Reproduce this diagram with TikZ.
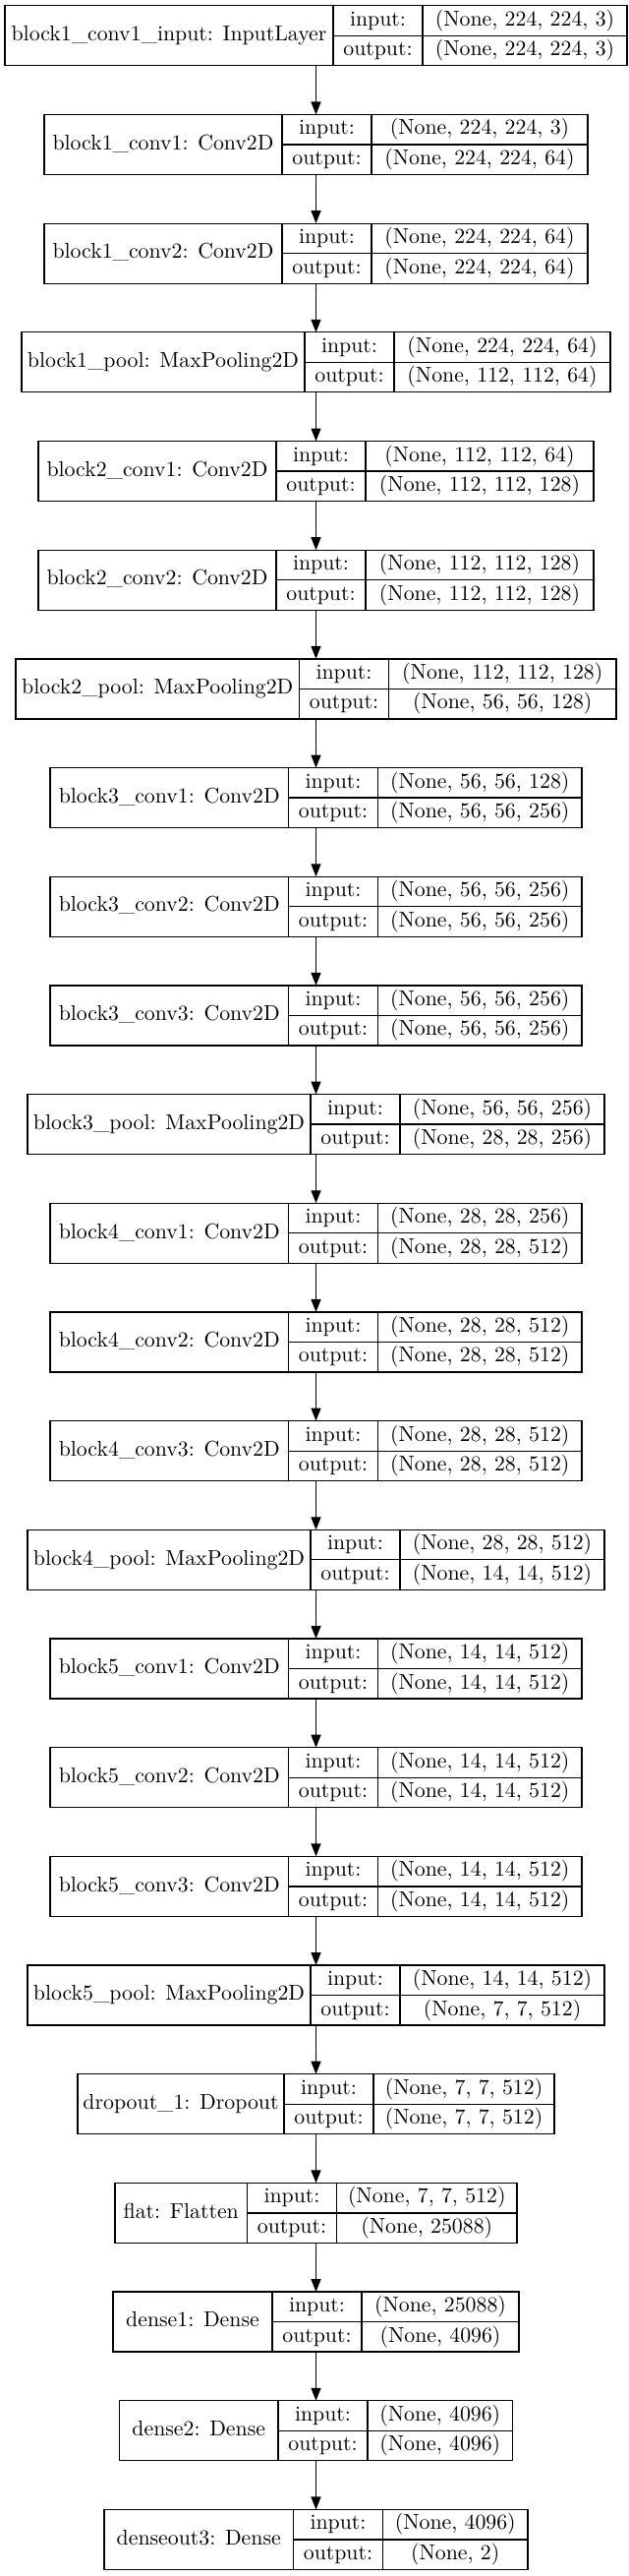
\documentclass[tikz,border=0pt]{standalone}
\usepackage{fontspec}
\usepackage{graphicx}
\usetikzlibrary{arrows.meta}
\newcommand{\celltext}[1]{\scalebox{2.18}{\strut #1}}
\tikzset{
  boxall/.style={draw=black, line width=1.3pt, inner sep=0pt, outer sep=0pt, anchor=north west},
  cell/.style={draw=black, line width=1.3pt, inner sep=0pt, outer sep=0pt, anchor=north west,
    font=\fontsize{10}{12}\selectfont, align=center},
  arr/.style={-{Triangle[length=13pt,width=10pt]}, line width=1.3pt, draw=black, fill=black}
}
% #1 name, #2 index, #3 left x, #4 first divider x, #5 right x, #6 label, #7 input, #8 output
\newcommand{\nnlayer}[8]{%
  \pgfmathsetmacro{\ytop}{-(5.8+110.68*#2)}%
  \pgfmathsetmacro{\xtwo}{#4+91}%
  \pgfmathsetmacro{\ybot}{\ytop-30.5}%
  \node[boxall, minimum width={(#5-#3)*1pt}, minimum height=61pt] (#1) at (#3,\ytop) {};
  \node[cell, minimum width={(#4-#3)*1pt}, minimum height=61pt] (#1-lab) at (#3,\ytop) {\celltext{#6}};
  \node[cell, minimum width=91pt, minimum height=30.5pt] (#1-ik) at (#4,\ytop) {\celltext{input:}};
  \node[cell, minimum width=91pt, minimum height=30.5pt] (#1-ok) at (#4,\ybot) {\celltext{output:}};
  \node[cell, minimum width={(#5-\xtwo)*1pt}, minimum height=30.5pt] (#1-iv) at (\xtwo,\ytop) {\celltext{#7}};
  \node[cell, minimum width={(#5-\xtwo)*1pt}, minimum height=30.5pt] (#1-ov) at (\xtwo,\ybot) {\celltext{#8}};
}
\begin{document}
\begin{tikzpicture}[x=1pt, y=1pt]
\path[use as bounding box, fill=white] (0,0) rectangle (640,-2619);

\nnlayer{b0}{0}{5}{339}{638}{block1\_conv1\_input: InputLayer}{(None, 224, 224, 3)}{(None, 224, 224, 3)}
\nnlayer{b1}{1}{45}{287}{598}{block1\_conv1: Conv2D}{(None, 224, 224, 3)}{(None, 224, 224, 64)}
\nnlayer{b2}{2}{45}{287}{598}{block1\_conv2: Conv2D}{(None, 224, 224, 64)}{(None, 224, 224, 64)}
\nnlayer{b3}{3}{22}{310}{621}{block1\_pool: MaxPooling2D}{(None, 224, 224, 64)}{(None, 112, 112, 64)}
\nnlayer{b4}{4}{39}{281}{604}{block2\_conv1: Conv2D}{(None, 112, 112, 64)}{(None, 112, 112, 128)}
\nnlayer{b5}{5}{39}{281}{604}{block2\_conv2: Conv2D}{(None, 112, 112, 128)}{(None, 112, 112, 128)}
\nnlayer{b6}{6}{16}{304.5}{627}{block2\_pool: MaxPooling2D}{(None, 112, 112, 128)}{(None, 56, 56, 128)}
\nnlayer{b7}{7}{51}{293.5}{592}{block3\_conv1: Conv2D}{(None, 56, 56, 128)}{(None, 56, 56, 256)}
\nnlayer{b8}{8}{51}{293.5}{592}{block3\_conv2: Conv2D}{(None, 56, 56, 256)}{(None, 56, 56, 256)}
\nnlayer{b9}{9}{51}{293.5}{592}{block3\_conv3: Conv2D}{(None, 56, 56, 256)}{(None, 56, 56, 256)}
\nnlayer{b10}{10}{28}{316}{615}{block3\_pool: MaxPooling2D}{(None, 56, 56, 256)}{(None, 28, 28, 256)}
\nnlayer{b11}{11}{51}{293.5}{592}{block4\_conv1: Conv2D}{(None, 28, 28, 256)}{(None, 28, 28, 512)}
\nnlayer{b12}{12}{51}{293.5}{592}{block4\_conv2: Conv2D}{(None, 28, 28, 512)}{(None, 28, 28, 512)}
\nnlayer{b13}{13}{51}{293.5}{592}{block4\_conv3: Conv2D}{(None, 28, 28, 512)}{(None, 28, 28, 512)}
\nnlayer{b14}{14}{28}{316}{615}{block4\_pool: MaxPooling2D}{(None, 28, 28, 512)}{(None, 14, 14, 512)}
\nnlayer{b15}{15}{51}{293.5}{592}{block5\_conv1: Conv2D}{(None, 14, 14, 512)}{(None, 14, 14, 512)}
\nnlayer{b16}{16}{51}{293.5}{592}{block5\_conv2: Conv2D}{(None, 14, 14, 512)}{(None, 14, 14, 512)}
\nnlayer{b17}{17}{51}{293.5}{592}{block5\_conv3: Conv2D}{(None, 14, 14, 512)}{(None, 14, 14, 512)}
\nnlayer{b18}{18}{28}{316}{615}{block5\_pool: MaxPooling2D}{(None, 14, 14, 512)}{(None, 7, 7, 512)}
\nnlayer{b19}{19}{79}{289}{564}{dropout\_1: Dropout}{(None, 7, 7, 512)}{(None, 7, 7, 512)}
\nnlayer{b20}{20}{117}{251.5}{526}{flat: Flatten}{(None, 7, 7, 512)}{(None, 25088)}
\nnlayer{b21}{21}{115}{277}{528}{dense1: Dense}{(None, 25088)}{(None, 4096)}
\nnlayer{b22}{22}{121.5}{283}{521.5}{dense2: Dense}{(None, 4096)}{(None, 4096)}
\nnlayer{b23}{23}{106}{298.5}{537}{denseout3: Dense}{(None, 4096)}{(None, 2)}

\foreach \a/\b in {b0/b1,b1/b2,b2/b3,b3/b4,b4/b5,b5/b6,b6/b7,b7/b8,b8/b9,b9/b10,b10/b11,b11/b12,b12/b13,b13/b14,b14/b15,b15/b16,b16/b17,b17/b18,b18/b19,b19/b20,b20/b21,b21/b22,b22/b23}
  \draw[arr] (\a.south) -- (\a.south |- \b.north);
\end{tikzpicture}
\end{document}
